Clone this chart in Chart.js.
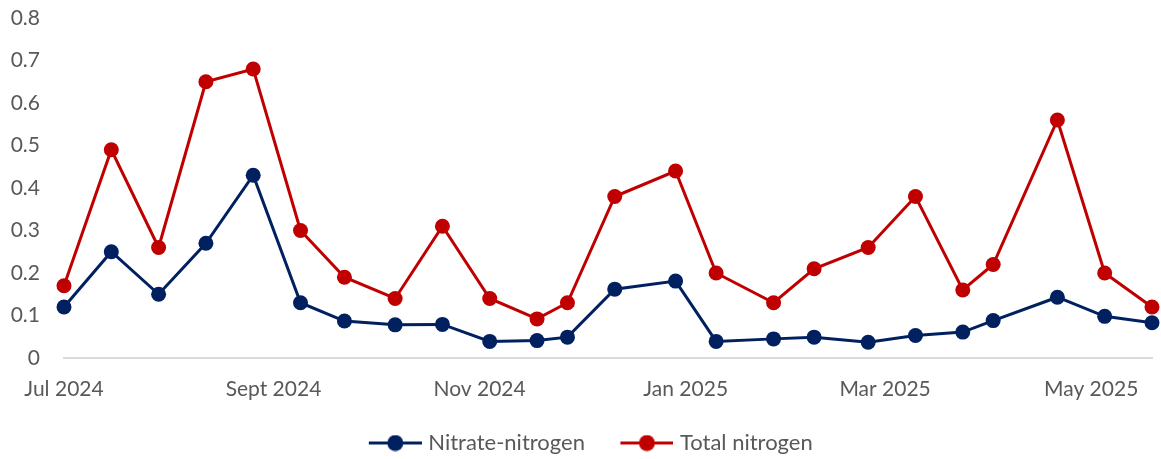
<!DOCTYPE html>
<html lang="en">
<head>
    <meta charset="UTF-8">
    <title>Nitrogen</title>
    <script src="https://cdn.jsdelivr.net/npm/chart.js"></script>
    <style>
        html, body { margin: 0; padding: 0; background: #fff; }
        #wrap { width: 1161px; height: 459px; }
    </style>
</head>
<body>
    <div id="wrap">
        <canvas id="myChart" width="1161" height="459"></canvas>
    </div>

    <script>
        // sampling dates and values
        const sampleDates = ['2024-07-01', '2024-07-15', '2024-07-29', '2024-08-12', '2024-08-26', '2024-09-09',
            '2024-09-22', '2024-10-07', '2024-10-21', '2024-11-04', '2024-11-18', '2024-11-27',
            '2024-12-11', '2024-12-29', '2025-01-10', '2025-01-27', '2025-02-08', '2025-02-24',
            '2025-03-10', '2025-03-24', '2025-04-02', '2025-04-21', '2025-05-05', '2025-05-19']
        const nitrate = [0.12, 0.25, 0.15, 0.27, 0.43, 0.13, 0.087, 0.078, 0.079, 0.039, 0.041, 0.049,
            0.162, 0.181, 0.039, 0.045, 0.049, 0.037, 0.053, 0.061, 0.088, 0.143, 0.098, 0.083]
        const totalN = [0.17, 0.49, 0.26, 0.65, 0.68, 0.30, 0.19, 0.14, 0.31, 0.14, 0.092, 0.13,
            0.38, 0.44, 0.20, 0.13, 0.21, 0.26, 0.38, 0.16, 0.22, 0.56, 0.20, 0.12]

        // axis ticks
        const xTickDates = ['2024-07-01', '2024-09-01', '2024-11-01', '2025-01-01', '2025-03-01', '2025-05-01']
        const xTickLabels = ['Jul 2024', 'Sept 2024', 'Nov 2024', 'Jan 2025', 'Mar 2025', 'May 2025']
        const yTicks = [0, 0.1, 0.2, 0.3, 0.4, 0.5, 0.6, 0.7, 0.8]

        const seriesNames = ['Nitrate-nitrogen', 'Total nitrogen']
        const seriesColors = ['#002060', '#C00000']

        // no date adapter, so days since first date on a linear axis
        const dayMs = 86400000
        const origin = Date.parse(sampleDates[0])
        const toDay = (s) => Math.round((Date.parse(s) - origin) / dayMs)
        const xDays = sampleDates.map(toDay)
        const xTickDays = xTickDates.map(toDay)

        const FONT = 'Lato'
        const TEXT = '#595959'

        // legend marker: line with a dot, left part left empty for spacing
        const legendMark = (color) => {
            const c = document.createElement('canvas')
            c.width = 87
            c.height = 17
            const g = c.getContext('2d')
            g.strokeStyle = color
            g.lineWidth = 3
            g.beginPath()
            g.moveTo(34, 8.5)
            g.lineTo(87, 8.5)
            g.stroke()
            g.fillStyle = color
            g.beginPath()
            g.arc(60.5, 8.5, 8, 0, Math.PI * 2)
            g.fill()
            return c
        }
        const legendImgs = seriesColors.map(legendMark)

        const toPoints = (vals) => vals.map((v, i) => ({ x: xDays[i], y: v }))

        const mkSet = (i, vals) => ({
            label: seriesNames[i],
            data: toPoints(vals),
            borderColor: seriesColors[i],
            backgroundColor: seriesColors[i],
            borderWidth: 3,
            pointRadius: 7.5,
            pointBorderWidth: 0,
            pointBackgroundColor: seriesColors[i],
            tension: 0,
            clip: false
        })

        const ctx = document.getElementById('myChart').getContext('2d')
        const myChart = new Chart(ctx, {
            type: 'line',
            data: {
                datasets: [mkSet(0, nitrate), mkSet(1, totalN)]
            },
            options: {
                responsive: false,
                animation: false,
                layout: { padding: { top: 18, right: 9, bottom: -5, left: 0 } },
                plugins: {
                    tooltip: { enabled: false },
                    legend: {
                        position: 'bottom',
                        labels: {
                            usePointStyle: true,
                            pointStyleWidth: 78,
                            padding: 6,
                            color: TEXT,
                            font: { family: FONT, size: 22 },
                            generateLabels: (chart) => chart.data.datasets.map((ds, i) => ({
                                text: ds.label,
                                fillStyle: seriesColors[i],
                                strokeStyle: seriesColors[i],
                                lineWidth: 0,
                                pointStyle: legendImgs[i],
                                fontColor: TEXT,
                                hidden: false,
                                datasetIndex: i
                            }))
                        }
                    }
                },
                scales: {
                    x: {
                        type: 'linear',
                        min: 0,
                        max: xDays[xDays.length - 1],
                        grid: { display: false, drawTicks: false },
                        border: { display: true, color: '#d9d9d9', width: 2 },
                        afterBuildTicks: (scale) => {
                            scale.ticks = xTickDays.map(v => ({ value: v }))
                        },
                        afterFit: (scale) => { scale.height = 68 },
                        ticks: {
                            autoSkip: false,
                            maxRotation: 0,
                            padding: 19,
                            color: TEXT,
                            font: { family: FONT, size: 21 },
                            callback: (v) => {
                                const k = xTickDays.indexOf(v)
                                return k >= 0 ? xTickLabels[k] : ''
                            }
                        }
                    },
                    y: {
                        min: yTicks[0],
                        max: yTicks[yTicks.length - 1],
                        grid: { display: false, drawTicks: false },
                        border: { display: false },
                        afterBuildTicks: (scale) => {
                            scale.ticks = yTicks.map(v => ({ value: v }))
                        },
                        afterFit: (scale) => {
                            scale.width = 64
                            // tick padding is only meant horizontally
                            scale.paddingTop = 0
                            scale.paddingBottom = 0
                        },
                        ticks: {
                            padding: 24,
                            color: TEXT,
                            font: { family: FONT, size: 21 },
                            callback: (v) => String(v)
                        }
                    }
                }
            }
        })
    </script>
</body>
</html>
